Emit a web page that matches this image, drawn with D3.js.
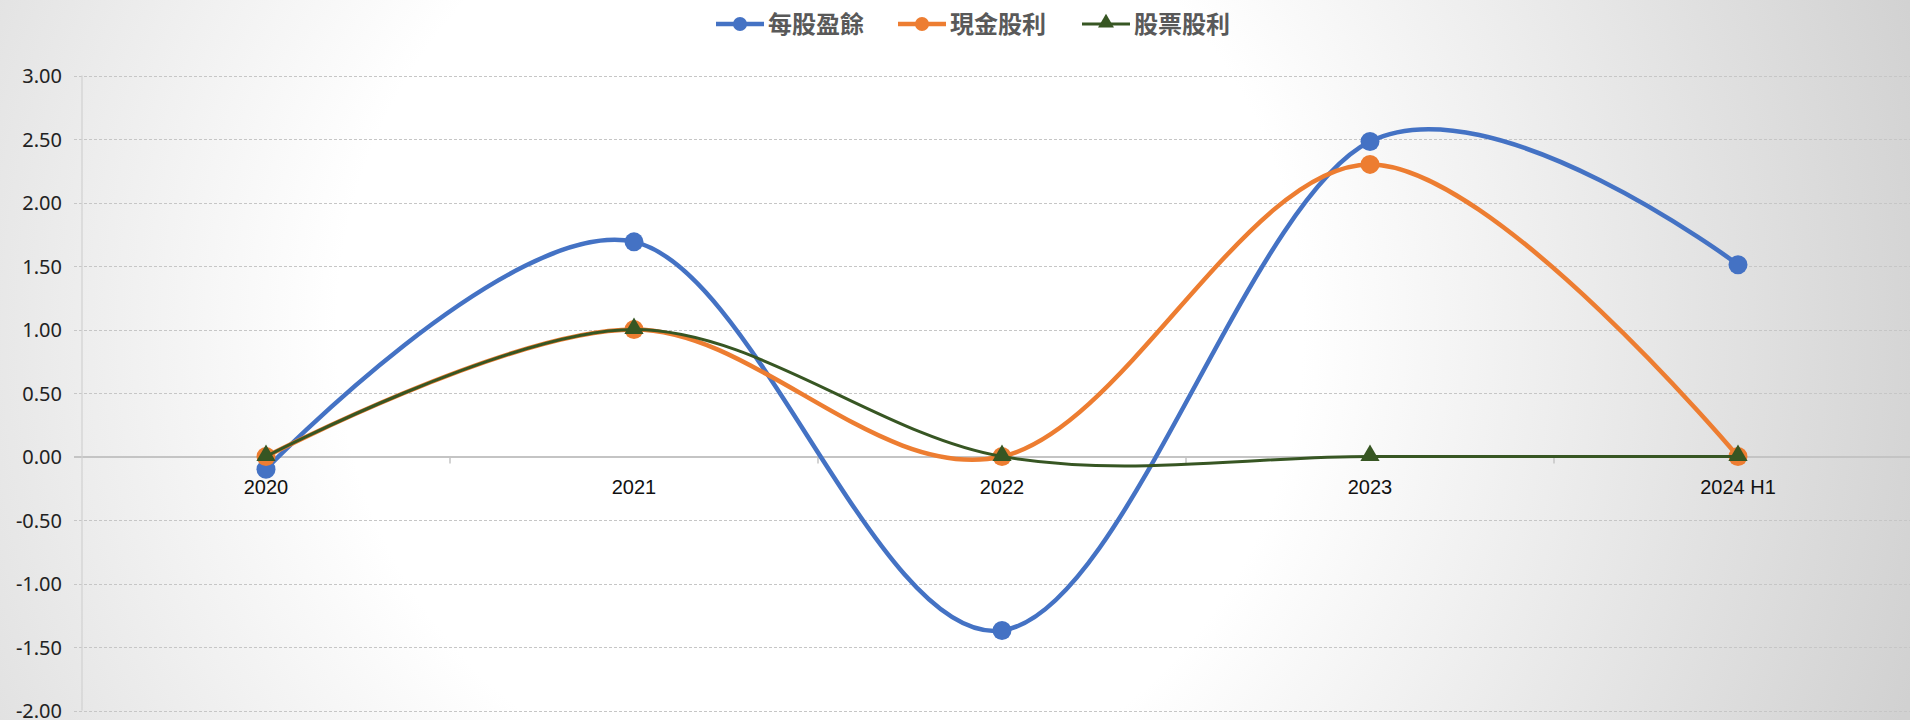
<!DOCTYPE html>
<html><head><meta charset="utf-8">
<script src="https://cdn.jsdelivr.net/npm/d3@7"></script>
<style>html,body{margin:0;padding:0;overflow:hidden;background:#fff}</style>
</head><body>
<svg id="c" width="1910" height="720"></svg>
<script>
const categories = ["2020", "2021", "2022", "2023", "2024 H1"];
const eps = [-0.10, 1.69, -1.37, 2.48, 1.51];
const cashDiv = [0.00, 1.00, 0.00, 2.30, 0.00];
const stockDiv = [0.00, 1.00, 0.00, 0.00, 0.00];
const seriesNames = ["每股盈餘", "現金股利", "股票股利"];
const yTicks = [3, 2.5, 2, 1.5, 1, 0.5, 0, -0.5, -1, -1.5, -2];

const W = 1910, H = 720;
const svg = d3.select("#c");
const defs = svg.append("defs");
const grad = defs.append("radialGradient").attr("id", "bg")
  .attr("gradientUnits", "userSpaceOnUse").attr("cx", 820).attr("cy", 330).attr("r", 1150);
grad.append("stop").attr("offset", 0).attr("stop-color", "#ffffff");
grad.append("stop").attr("offset", 0.42).attr("stop-color", "#ffffff");
grad.append("stop").attr("offset", 1).attr("stop-color", "#d1d1d1");
svg.append("rect").attr("width", W).attr("height", H).attr("fill", "url(#bg)");

const x = d3.scaleBand().domain(categories).range([82, 1922]);
const y = d3.scaleLinear().domain([-2, 3]).range([710.5, 75.5]);
const cx = d => x(d) + x.bandwidth() / 2;

// gridlines
const gy = svg.append("g").attr("transform", "translate(82,0)")
  .call(d3.axisLeft(y).tickValues(yTicks).tickSize(-(W - 82)).tickFormat(""));
gy.select(".domain").remove();
gy.selectAll(".tick line").attr("stroke", "#c6c6c6").attr("stroke-width", 1).attr("stroke-dasharray", "3,2")
  .attr("x1", -8).attr("x2", W - 82).attr("shape-rendering", "crispEdges");
gy.selectAll(".tick").filter(d => d === 0).select("line").attr("stroke-dasharray", null).attr("stroke", "#c4c4c4").attr("stroke-width", 1.5);

// y axis line
svg.append("line").attr("x1", 82).attr("x2", 82).attr("y1", y(3)).attr("y2", y(-2))
  .attr("stroke", "#d0d0d0").attr("stroke-width", 1.2);

// y labels
const fmt = d => d3.format(".2f")(d).replace("\u2212", "-");
const yl = svg.append("g").attr("transform", "translate(62,0)")
  .call(d3.axisLeft(y).tickValues(yTicks).tickSize(0).tickPadding(0).tickFormat(fmt));
yl.select(".domain").remove();
yl.selectAll("text").attr("font-family", "'Noto Sans', 'Open Sans', sans-serif").attr("font-size", 20)
  .attr("fill", "#222").attr("dy", "0.35em");

// x axis ticks (between categories) and labels on zero line
const xa = svg.append("g").attr("transform", `translate(0,${y(0)})`)
  .call(d3.axisBottom(x).tickSize(0).tickPadding(0));
xa.select(".domain").remove();
xa.selectAll("text").attr("font-family", "'Liberation Sans', Arial, sans-serif").attr("font-size", 20)
  .attr("fill", "#111").attr("dy", "1.85em");
const bounds = categories.slice(1);
svg.append("g").selectAll("line").data(bounds).join("line")
  .attr("x1", d => x(d)).attr("x2", d => x(d)).attr("y1", y(0)).attr("y2", y(0) + 7)
  .attr("stroke", "#c4c4c4").attr("stroke-width", 1.5);

const line = d3.line().x((d, i) => cx(categories[i])).y(d => y(d)).curve(d3.curveCardinal.tension(0));

const series = [
  { name: seriesNames[0], values: eps, color: "#4472C4", width: 4.5, marker: "circle" },
  { name: seriesNames[1], values: cashDiv, color: "#ED7D31", width: 4.5, marker: "circle" },
  { name: seriesNames[2], values: stockDiv, color: "#375623", width: 3, marker: "triangle" }
];
const tri = d3.symbol().type(d3.symbolTriangle).size(160);

series.forEach(s => {
  const g = svg.append("g");
  g.append("path").attr("d", line(s.values)).attr("fill", "none").attr("stroke", s.color)
    .attr("stroke-width", s.width).attr("stroke-linecap", "round");
  if (s.marker === "circle") {
    g.selectAll("circle").data(s.values).join("circle")
      .attr("cx", (d, i) => cx(categories[i])).attr("cy", d => y(d)).attr("r", 9.5).attr("fill", s.color);
  } else {
    g.selectAll("path.m").data(s.values).join("path").attr("class", "m")
      .attr("d", tri).attr("transform", (d, i) => `translate(${cx(categories[i])},${y(d) - 1})`).attr("fill", s.color);
  }
});

// legend
const legX = [716, 898, 1082];
const lg = svg.append("g");
series.forEach((s, i) => {
  const g = lg.append("g").attr("transform", `translate(${legX[i]},24)`);
  g.append("line").attr("x1", 0).attr("x2", 48).attr("y1", 0).attr("y2", 0).attr("stroke", s.color).attr("stroke-width", s.width);
  if (s.marker === "circle") g.append("circle").attr("cx", 24).attr("cy", 0).attr("r", 7).attr("fill", s.color);
  else g.append("path").attr("d", d3.symbol().type(d3.symbolTriangle).size(110)).attr("transform", "translate(24,-1)").attr("fill", s.color);
  g.append("text").attr("x", 52).attr("y", 0).attr("dy", "0.36em").text(s.name)
    .attr("font-family", "'Noto Sans CJK TC', sans-serif").attr("font-weight", 700).attr("font-size", 24).attr("fill", "#595959");
});
</script>
</body></html>
